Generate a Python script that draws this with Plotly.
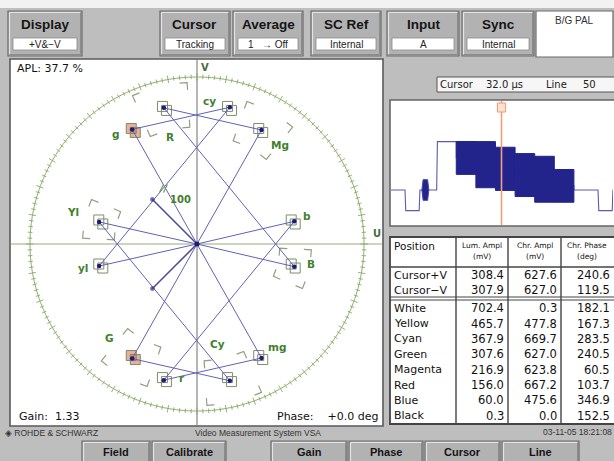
import numpy as np
import plotly.graph_objects as go

bar_names = ["White", "Yellow", "Cyan", "Green", "Magenta", "Red", "Blue", "Black"]
lum_ampl_mv = [702.4, 465.7, 367.9, 307.6, 216.9, 156.0, 60.0, 0.3]
chr_ampl_mv = [0.3, 477.8, 669.7, 627.0, 623.8, 667.2, 475.6, 0.0]
chr_phase_deg = [182.1, 167.3, 283.5, 240.5, 60.5, 103.7, 346.9, 152.5]

cursor_names = ["Cursor+V", "Cursor\u2212V"]
cursor_lum_mv = [308.4, 307.9]
cursor_chr_mv = [627.6, 627.0]
cursor_phase_deg = [240.6, 119.5]

burst_ampl_mv = 300.0
burst_phase_deg = [135.0, 225.0]          # +V line, -V line

target_labels_pv = ["Yl", "Cy", "G", "Mg", "R", "B"]
target_labels_mv = ["yl", "cy", "g", "mg", "r", "b"]
target_ampl_mv = [470.0, 664.0, 620.0, 620.0, 664.0, 470.0]
target_phase_deg = [167.1, 283.5, 240.7, 60.7, 103.5, 347.1]

apl_pct = 37.7
gain_value = 1.33
phase_value_deg = 0.0
cursor_time_us = 32.0
cursor_line_no = 50
timestamp = "03-11-05 18:21:08"

# PAL line timing used for the waveform
sync_width_us = 4.7
burst_start_us, burst_end_us = 5.6, 7.9
active_start_us = 10.5
bar_width_us = 6.5
line_period_us = 64.0
sync_level_mv = -300.0

top_buttons = [("Display", "+V&amp;\u2212V"), ("Cursor", "Tracking"), ("Average", "1   \u2192 Off"),
               ("SC Ref", "Internal"), ("Input", "A"), ("Sync", "Internal")]
std_label = "B/G PAL"
bottom_buttons = ["Field", "Calibrate", "Gain", "Phase", "Cursor", "Line"]
table_headers = [("Lum. Ampl", "(mV)"), ("Chr. Ampl", "(mV)"), ("Chr. Phase", "(deg)")]

# ---------------- layout constants (pixels) ----------------
W, H = 614, 461
FONT = "Liberation Sans"
DFONT = "DejaVu Sans"
BG = "#bebebe"
GREEN_TXT = "#437f2e"
GRAT = "#8aab68"
VEC = "#6262b4"

top_btn_x = [(8, 82), (160, 230), (233, 303), (311, 381), (387, 459), (462, 534)]
bot_btn_x = [(82, 150), (152, 226), (271, 347), (349, 423), (425, 500), (502, 579)]

CX, CY = 197, 244          # vectorscope centre (px)
S = 0.21                   # px per mV
RPX = 176                  # polar domain radius (px)
RMAX = RPX / S
R_CIRC = 167 / S

def px(x):
    return x / W

def py(y):
    return 1 - y / H

shapes, annots = [], []

def rect(x0, y0, x1, y1, fill="rgba(0,0,0,0)", line=None, lw=1.0, layer="below"):
    shapes.append(dict(type="rect", xref="paper", yref="paper",
                       x0=px(x0), x1=px(x1), y0=py(y1), y1=py(y0),
                       fillcolor=fill,
                       line=dict(color=line or "rgba(0,0,0,0)", width=lw if line else 0),
                       layer=layer))

def seg(x0, y0, x1, y1, color, lw=1.0, layer="below"):
    shapes.append(dict(type="line", xref="paper", yref="paper",
                       x0=px(x0), x1=px(x1), y0=py(y0), y1=py(y1),
                       line=dict(color=color, width=lw), layer=layer))

def label(x, y, s, size=10, color="#111111", bold=False, xanchor="center", family=FONT):
    annots.append(dict(xref="paper", yref="paper", x=px(x), y=py(y),
                       text=f"<b>{s}</b>" if bold else s, showarrow=False,
                       xanchor=xanchor, yanchor="middle", borderpad=0,
                       font=dict(size=size, color=color, family=family)))

def button(x0, y0, x1, y1, face="#b2b2b2"):
    rect(x0, y0, x1, y1, face, "#6a6a6a", 1.2)
    seg(x0 + 1.5, y0 + 1.5, x1 - 1.5, y0 + 1.5, "#e4e4e4", 1.2)
    seg(x0 + 1.5, y0 + 1.5, x0 + 1.5, y1 - 1.5, "#e4e4e4", 1.2)
    seg(x0 + 1.5, y1 - 1.5, x1 - 1.5, y1 - 1.5, "#8c8c8c", 1.0)
    seg(x1 - 1.5, y0 + 1.5, x1 - 1.5, y1 - 1.5, "#8c8c8c", 1.0)

# ---------------- screen chrome ----------------
rect(0, 0, W, 8, "#f2f2f2")
for (name, sub), (x0, x1) in zip(top_buttons, top_btn_x):
    button(x0, 11, x1, 56)
    rect(x0 + 5, 38, x1 - 5, 50, "white", "#8a8a8a", 0.8)
    label((x0 + x1) / 2, 24.5, name, 13.5, "#151515", True)
    label((x0 + x1) / 2, 44.2, sub, 10, "#222222")
rect(536, 11, 613, 57, "white", "#6a6a6a", 1.2)
label(574, 21, std_label, 10, "#333333")

# vectorscope panel
rect(10, 59, 383, 426, "white", "#5a5a5a", 1.6)
seg(10.8, CY, 382.2, CY, "#98ac7e", 1.1)
seg(CX, 59.8, CX, 425.2, "#7a7a7a", 1.1)
label(205, 67.5, "V", 10, "#4d6b3c", True, family=DFONT)
label(377, 233, "U", 10, "#4d6b3c", True, family=DFONT)
label(16, 68.5, f"APL: {apl_pct:.1f} %", 11, "#111111", xanchor="left", family=DFONT)
label(18, 416, f"Gain:  {gain_value:.2f}", 11, "#111111", xanchor="left", family=DFONT)
label(379, 416, f"Phase:    {phase_value_deg:+.1f} deg", 11, "#111111", xanchor="right", family=DFONT)

# right panels
rect(437, 77, 617, 92, "#f6f6f6", "#555555", 1.0)
label(439, 84.5, "Cursor", 10, "#222222", xanchor="left", family=DFONT)
label(485, 84.5, f"{cursor_time_us:.1f} \u00b5s", 10, "#222222", xanchor="left", family=DFONT)
label(545, 84.5, "Line", 10, "#222222", xanchor="left", family=DFONT)
label(582, 84.5, f"{cursor_line_no}", 10, "#222222", xanchor="left", family=DFONT)
rect(390, 100, 617, 226, "white", "#666666", 1.6)

# table
TX = [390, 456, 508, 561, 617]
rect(TX[0], 237, TX[-1], 424, "white", "#444444", 1.8)
for xv in TX[1:-1]:
    seg(xv, 237, xv, 424, "#444444", 1.4)
seg(TX[0], 267, TX[-1], 267, "#444444", 1.4)
seg(TX[0], 297, TX[-1], 297, "#444444", 1.2)
seg(TX[0], 300, TX[-1], 300, "#444444", 1.2)
label(393, 246, "Position", 10.5, "#111111", xanchor="left", family=DFONT)
for (h1, h2), xa, xb in zip(table_headers, TX[1:-1], TX[2:]):
    xm = (xa + xb) / 2 if xb < 600 else xa + 26
    label(xm, 245, h1, 7.5, "#111111", family=DFONT)
    label(xm, 256, h2, 7.5, "#111111", family=DFONT)
cur_rows_y = [275, 290]
for nm, a, b, c, yy in zip(cursor_names, cursor_lum_mv, cursor_chr_mv, cursor_phase_deg, cur_rows_y):
    label(393, yy, nm, 11, "#111111", xanchor="left", family=DFONT)
    label(TX[2] - 3, yy, f"{a:.1f}", 11.5, "#111111", xanchor="right", family=DFONT)
    label(TX[3] - 3, yy, f"{b:.1f}", 11.5, "#111111", xanchor="right", family=DFONT)
    label(TX[4] - 6, yy, f"{c:.1f}", 11.5, "#111111", xanchor="right", family=DFONT)
row_h = (423.5 - 300.5) / len(bar_names)
for i, (nm, a, b, c) in enumerate(zip(bar_names, lum_ampl_mv, chr_ampl_mv, chr_phase_deg)):
    yy = 300.5 + row_h * (i + 0.5)
    label(393, yy, nm, 11, "#111111", xanchor="left", family=DFONT)
    label(TX[2] - 3, yy, f"{a:.1f}", 11.5, "#111111", xanchor="right", family=DFONT)
    label(TX[3] - 3, yy, f"{b:.1f}", 11.5, "#111111", xanchor="right", family=DFONT)
    label(TX[4] - 6, yy, f"{c:.1f}", 11.5, "#111111", xanchor="right", family=DFONT)

# footer
label(4, 433, "\u25c8 ROHDE &amp; SCHWARZ", 8.5, "#333333", xanchor="left")
label(258, 433, "Video Measurement System VSA", 8.5, "#333333")
label(613, 432, timestamp, 8.5, "#333333", xanchor="right")
for name, (x0, x1) in zip(bottom_buttons, bot_btn_x):
    button(x0, 441, x1, 468)
    label((x0 + x1) / 2, 452, name, 11, "#151515", True)

# ---------------- vectorscope traces (polar) ----------------
def to_px(r, th):
    a = np.radians(th)
    return CX + r * S * np.cos(a), CY - r * S * np.sin(a)

def from_px(x, y):
    dx, dy = (x - CX), (CY - y)
    return float(np.hypot(dx, dy) / S), float(np.degrees(np.arctan2(dy, dx)) % 360)

traces = []
# graticule circle and ticks
th_c = np.linspace(0, 360, 721)
traces.append(go.Scatterpolar(r=np.full_like(th_c, R_CIRC), theta=th_c, mode="lines",
                              line=dict(color=GRAT, width=1.0), hoverinfo="skip"))
tr, tt = [], []
for a in range(0, 360, 2):
    big = a % 10 == 0
    lo, hi = (163.5, 171.0) if big else (165.0, 169.5)
    tr += [lo / S, hi / S, None]
    tt += [a, a, None]
traces.append(go.Scatterpolar(r=tr, theta=tt, mode="lines", connectgaps=False,
                              line=dict(color=GRAT, width=0.9), hoverinfo="skip"))

# tolerance brackets around +V targets
br, bt = [], []
arm = 7.5
for r0, th0 in zip(target_ampl_mv, target_phase_deg):
    for rc, rdir in ((r0 * 0.84, 1), (r0 * 1.16, -1)):
        darm = np.degrees(arm / (rc * S))
        for thc, tdir in ((th0 - 10, 1), (th0 + 10, -1)):
            br += [rc + rdir * arm / S, rc, rc, None]
            bt += [thc, thc, thc + tdir * darm, None]
traces.append(go.Scatterpolar(r=br, theta=bt, mode="lines", connectgaps=False,
                              line=dict(color="#929f80", width=1.2), hoverinfo="skip"))

# target boxes (two offset squares each), +V and -V
sq_r, sq_t, hl_r, hl_t = [], [], [], []
for k, (r0, th0) in enumerate(zip(target_ampl_mv, target_phase_deg)):
    for th in (th0, (360 - th0) % 360):
        x, y = to_px(r0, th)
        for ox, oy in ((-2, -2), (2, 2)):
            rr, ttt = from_px(x + ox, y + oy)
            sq_r.append(rr); sq_t.append(ttt)
            if target_labels_pv[k] == "G":
                hl_r.append(rr); hl_t.append(ttt)
traces.append(go.Scatterpolar(r=hl_r, theta=hl_t, mode="markers",
                              marker=dict(symbol="square", size=10, color="rgba(214,110,70,0.55)",
                                          line=dict(width=0)), hoverinfo="skip"))
traces.append(go.Scatterpolar(r=sq_r, theta=sq_t, mode="markers",
                              marker=dict(symbol="square-open", size=10, color="#7e8c6c",
                                          line=dict(width=1)), hoverinfo="skip"))

# burst target mark and "100" label
bx, by = to_px(burst_ampl_mv, burst_phase_deg[0])
seg(bx + 7, by - 7, bx + 11, by - 15, "#6f9a52", 1.2, layer="above")
seg(bx + 11, by - 7, bx + 15, by - 15, "#6f9a52", 1.2, layer="above")
label(bx + 28, by, "100", 10, GREEN_TXT, True, family=DFONT)

# measured vectors: +V line and mirrored -V line
th_pv = list(chr_phase_deg)
th_mv = [(360 - p) % 360 for p in chr_phase_deg]
for ths in (th_pv, th_mv):
    traces.append(go.Scatterpolar(r=chr_ampl_mv, theta=ths, mode="lines",
                                  line=dict(color=VEC, width=1.0), hoverinfo="skip"))
for bp in burst_phase_deg:
    traces.append(go.Scatterpolar(r=[0, burst_ampl_mv], theta=[bp, bp], mode="lines+markers",
                                  line=dict(color="#4a4a9a", width=1.5),
                                  marker=dict(size=[0, 4], color="#2a2a80"), hoverinfo="skip"))
traces.append(go.Scatterpolar(r=chr_ampl_mv[1:7] * 2, theta=th_pv[1:7] + th_mv[1:7], mode="markers",
                              marker=dict(symbol="circle", size=4.5, color="#1c1c78"), hoverinfo="skip"))
traces.append(go.Scatterpolar(r=[0], theta=[0], mode="markers",
                              marker=dict(size=5, color="#1c1c78"), hoverinfo="skip"))

# target labels
off_pv = {"Yl": (-28, -10), "Cy": (-12, -36), "G": (-24, -20), "Mg": (19, 15), "R": (6, 29), "B": (18, -2)}
off_mv = {"yl": (-18, 2), "cy": (-20, -7), "g": (-17, 4), "mg": (16, -11), "r": (18, -2), "b": (14, -6)}
for lp, lm, r0, th0 in zip(target_labels_pv, target_labels_mv, target_ampl_mv, target_phase_deg):
    x, y = to_px(r0, th0)
    label(x + off_pv[lp][0], y + off_pv[lp][1], lp, 10.5, GREEN_TXT, True, family=DFONT)
    x, y = to_px(r0, 360 - th0)
    label(x + off_mv[lm][0], y + off_mv[lm][1], lm, 10.5, GREEN_TXT, True, family=DFONT)

# ---------------- waveform (cartesian) ----------------
T0 = (391 - 405) / 3.016
T1 = (613 - 405) / 3.016
V0 = (190 - 225) / 0.06885
V1 = (190 - 101) / 0.06885
edge = 0.25
tw = [T0, 0, edge, sync_width_us, sync_width_us + edge, active_start_us, active_start_us + edge]
vw = [0, 0, sync_level_mv, sync_level_mv, 0, 0, lum_ampl_mv[0]]
for k in range(len(bar_names)):
    t0 = active_start_us + k * bar_width_us
    tw += [max(t0, active_start_us + edge), t0 + bar_width_us]
    vw += [lum_ampl_mv[k], lum_ampl_mv[k]]
tw += [line_period_us, line_period_us + edge, line_period_us + sync_width_us,
       line_period_us + sync_width_us + edge, T1 + 1]
vw += [0, sync_level_mv, sync_level_mv, 0, 0]
WCOL = "#4646a6"
FCOL = "#23238c"
traces.append(go.Scatter(x=tw, y=vw, mode="lines", line=dict(color="#5a5ab0", width=1.1),
                         xaxis="x", yaxis="y", hoverinfo="skip"))
bh = burst_ampl_mv / 2
traces.append(go.Scatter(x=[burst_start_us, burst_start_us + 0.4, burst_end_us - 0.4, burst_end_us,
                            burst_end_us - 0.4, burst_start_us + 0.4, burst_start_us],
                         y=[0, bh, bh, 0, -bh, -bh, 0], mode="lines", fill="toself",
                         fillcolor=FCOL, line=dict(color=WCOL, width=1), xaxis="x", yaxis="y",
                         hoverinfo="skip"))
for k in range(1, 7):
    t0 = active_start_us + k * bar_width_us
    t1 = t0 + bar_width_us
    lo = lum_ampl_mv[k] - chr_ampl_mv[k] / 2
    hi = lum_ampl_mv[k] + chr_ampl_mv[k] / 2
    traces.append(go.Scatter(x=[t0, t1, t1, t0, t0], y=[lo, lo, hi, hi, lo], mode="lines",
                             fill="toself", fillcolor=FCOL, line=dict(color=FCOL, width=1),
                             xaxis="x", yaxis="y", hoverinfo="skip"))
# cursor
shapes.append(dict(type="line", xref="x", yref="paper", x0=cursor_time_us, x1=cursor_time_us,
                   y0=py(225), y1=py(101), line=dict(color="#f2a07c", width=1.6), layer="above"))
shapes.append(dict(type="rect", xref="x", yref="paper", x0=cursor_time_us - 1.35, x1=cursor_time_us + 1.35,
                   y0=py(112), y1=py(103), fillcolor="#fde2d4", line=dict(color="#ee9a74", width=1),
                   layer="above"))

fig = go.Figure(traces)
fig.update_layout(
    width=W, height=H, autosize=False,
    margin=dict(l=0, r=0, t=0, b=0),
    paper_bgcolor=BG, plot_bgcolor="rgba(0,0,0,0)",
    showlegend=False,
    shapes=shapes, annotations=annots,
    polar=dict(domain=dict(x=[px(CX - RPX), px(CX + RPX)], y=[py(CY + RPX), py(CY - RPX)]),
               bgcolor="rgba(0,0,0,0)",
               radialaxis=dict(visible=False, range=[0, RMAX]),
               angularaxis=dict(visible=False, rotation=0, direction="counterclockwise")),
    xaxis=dict(domain=[px(391), px(613)], range=[T0, T1], visible=False, fixedrange=True),
    yaxis=dict(domain=[py(225), py(101)], range=[V0, V1], visible=False, fixedrange=True),
)
fig.write_html("out.html", config={"displayModeBar": False},
               post_script="document.body.style.margin='0';document.body.style.padding='0';"
                           "document.body.style.overflow='hidden';")
